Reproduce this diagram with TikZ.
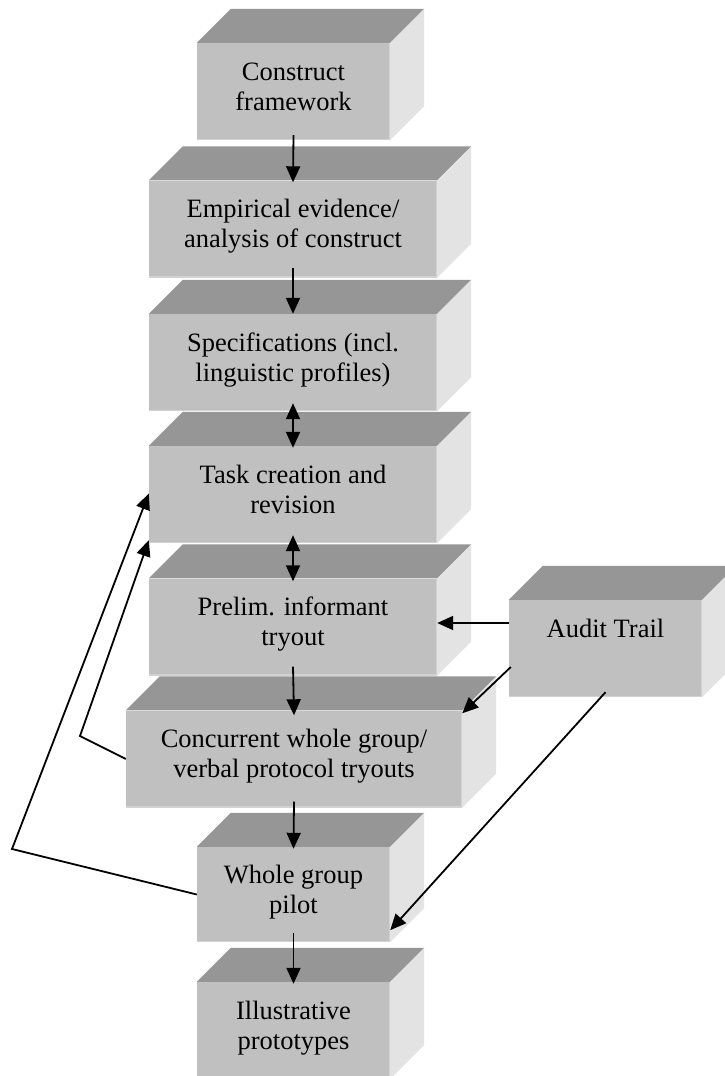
\documentclass[tikz,border=0pt]{standalone}
\usepackage{fontspec}
\setmainfont{Liberation Serif}
\usetikzlibrary{arrows.meta, calc}

\definecolor{ink}{HTML}{000000}
\definecolor{facefront}{HTML}{C0C0C0}
\definecolor{facetop}{HTML}{969696}
\definecolor{faceside}{HTML}{E3E3E3}
\definecolor{faceedge}{HTML}{D2D2D2}

% depth of the 3d faces
\newcommand{\cubedepth}{34}
\newcommand{\cubefaces}[1]{%
  \fill[facetop] (#1.north west) -- ++(\cubedepth,\cubedepth)
    -- ($(#1.north east)+(\cubedepth,\cubedepth)$) -- (#1.north east) -- cycle;
  \fill[faceside] (#1.north east) -- ++(\cubedepth,\cubedepth)
    -- ($(#1.south east)+(\cubedepth,\cubedepth)$) -- (#1.south east) -- cycle;
  \draw[faceedge, line width=1.5pt] ([yshift=0.75pt]#1.south west)
    -- ([xshift=-0.75pt,yshift=0.75pt]#1.south east) -- ([xshift=-0.75pt]#1.north east);
}

\tikzset{
  >={Triangle[length=16pt, width=14pt]},
  %
  cube/.style={
    fill=facefront, inner sep=0pt, align=center, text=ink,
    minimum width=193pt, minimum height=97pt,
    text height=49pt, text depth=12pt,
    font=\fontsize{26.5}{30}\selectfont,
  },
  cubewide/.style={cube, minimum width=288pt},
  %
  flow/.style={draw=ink, line width=1.8pt, ->},
  flowboth/.style={flow, <->},
}

\begin{document}
\begin{tikzpicture}[x=1pt, y=1pt]
\useasboundingbox (0,0) rectangle (724,-1076);

% =========================================================================
% the stack of steps
% =========================================================================
\node[cube] (frame) at (293.5,-91.5) {Construct\\framework};
\node[cubewide] (evid) at (293,-229) {Empirical evidence/\\analysis of construct};
\node[cubewide] (spec) at (293,-362.5) {Specifications (incl.\\linguistic profiles)};
\node[cubewide] (task) at (293,-494.5) {Task creation and\\revision};
\node[cubewide] (prelim) at (293,-627) {Prelim. informant\\tryout};
\node[cube, minimum width=336pt] (concur) at (294,-759)
  {Concurrent whole group/\\verbal protocol tryouts};
\node[cube, minimum height=95pt] (pilot) at (293.5,-894.5) {Whole group\\pilot};
\node[cube] (proto) at (293.5,-1030.5) {Illustrative\\prototypes};

% the audit trail on the right
\node[cube] (audit) at (605.5,-648.5) {Audit Trail\\\mbox{}};

\foreach \c in {frame,evid,spec,task,prelim,concur,pilot,proto,audit}
  {\cubefaces{\c}}

% =========================================================================
% arrows
% =========================================================================
\draw[flow] ([yshift=5pt]frame.south) -- ([yshift=-2pt]evid.north);
\draw[flow] ([yshift=10pt]evid.south) -- (spec.north);
\draw[flowboth] ([yshift=8pt]spec.south) -- ([yshift=-2pt]task.north);
\draw[flowboth] ([yshift=8pt]task.south) -- ([yshift=-3pt]prelim.north);
\draw[flow] ([yshift=9pt]prelim.south) -- ([yshift=-5pt]concur.north);
\draw[flow] ([yshift=6pt]concur.south) -- ([yshift=-2pt]pilot.north);
\draw[flow] ([yshift=9pt]pilot.south) -- ([yshift=-2pt]proto.north);

% from the audit trail
\coordinate (auditout) at ([yshift=25.5pt]audit.west);
\draw[flow] (auditout) -- (auditout -| prelim.east);
\draw[flow] ([xshift=2pt,yshift=-18.5pt]audit.west) -- ([yshift=-3pt]concur.north east);
\draw[flow] ([yshift=5pt]audit.south) -- ([yshift=12pt]pilot.south east);

% feedback to task creation
\coordinate (outerbend) at (12,-849);
\coordinate (innerbend) at (80,-736);
\draw[flow] (pilot.west) -- (outerbend) -- ([yshift=1pt]task.west);
\draw[flow] (concur.west) -- (innerbend) -- ([yshift=3pt]task.south west);

\end{tikzpicture}
\end{document}
